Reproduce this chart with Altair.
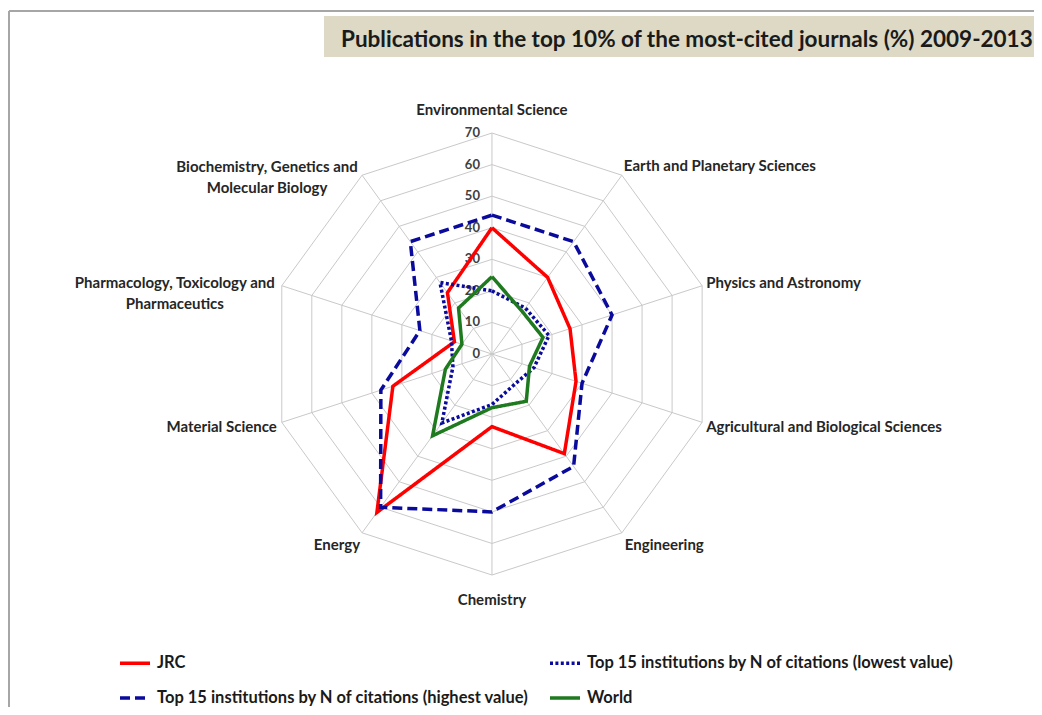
import altair as alt
import pandas as pd

# ---------------- data ----------------
categories = [
    "Environmental Science",
    "Earth and Planetary Sciences",
    "Physics and Astronomy",
    "Agricultural and Biological Sciences",
    "Engineering",
    "Chemistry",
    "Energy",
    "Material Science",
    "Pharmacology, Toxicology and\nPharmaceutics",
    "Biochemistry, Genetics and\nMolecular Biology",
]
series_names = [
    "JRC",
    "Top 15 institutions by N of citations (lowest value)",
    "Top 15 institutions by N of citations (highest value)",
    "World",
]
jrc = [40, 30, 26, 28, 39, 23, 62, 33, 12.5, 24]
top15_low = [20, 18, 19, 14, 12, 16, 27, 13, 13.5, 28]
top15_high = [44, 44, 40, 30, 44, 50, 60, 37, 24, 44]
world = [24.5, 16.5, 17, 12.5, 18.5, 17, 32, 15.5, 10, 18]
ticks = [0, 10, 20, 30, 40, 50, 60, 70]
title_text = "Publications in the top 10% of the most-cited journals (%) 2009-2013"

series_values = [jrc, top15_low, top15_high, world]
colors = ["#ff0000", "#0a0a9c", "#0a0a9c", "#1f7a1f"]
dashes = [[1, 0], [3, 2.4], [10, 5], [1, 0]]

n = len(categories)
rmax = ticks[-1]

# long tables built from the arrays above
rows = []
for s, vals in zip(series_names, series_values):
    for k in range(n + 1):
        rows.append({"series": s, "k": k, "value": vals[k % n]})
lines_df = pd.DataFrame(rows)

grid_df = pd.DataFrame([{"level": t, "k": k} for t in ticks[1:] for k in range(n + 1)])
spoke_df = pd.DataFrame({"k": list(range(n)), "category": categories})
tick_df = pd.DataFrame({"value": ticks})

FONT = "Lato"
W, H = 1026, 699
XD = [-153.3, 171.7]
YD = [-111.8, 109.6]


def X(field):
    return alt.X(field, type="quantitative", scale=alt.Scale(domain=XD, nice=False, zero=False), axis=None)


def Y(field):
    return alt.Y(field, type="quantitative", scale=alt.Scale(domain=YD, nice=False, zero=False), axis=None)


ang = "datum.k * 2 * PI / %d" % n

grid = alt.Chart(grid_df).mark_line(color="#c9c9c9", strokeWidth=1).transform_calculate(
    gx=f"datum.level * sin({ang})", gy=f"datum.level * cos({ang})"
).encode(x=X("gx"), y=Y("gy"), detail="level:N", order="k:Q")

spokes = alt.Chart(spoke_df).mark_rule(color="#c9c9c9", strokeWidth=1).transform_calculate(
    sx="0", sy="0", ex=f"{rmax} * sin({ang})", ey=f"{rmax} * cos({ang})"
).encode(x=X("sx"), y=Y("sy"), x2="ex:Q", y2="ey:Q")

tick_labels = alt.Chart(tick_df).mark_text(
    align="right", baseline="middle", dx=-12, font=FONT, fontSize=13, fontWeight="bold", color="#404040"
).transform_calculate(tx="0").encode(x=X("tx"), y=Y("value"), text="value:Q")

legend = alt.Legend(
    title=None, orient="none", legendX=110, legendY=638, columns=2, direction="horizontal",
    symbolType="stroke", symbolSize=900, symbolStrokeWidth=3.5,
    labelFont=FONT, labelFontSize=16.5, labelFontWeight="bold", labelColor="#1a1a1a",
    labelLimit=0, labelOffset=5, rowPadding=9, columnPadding=14,
)

series = alt.Chart(lines_df).mark_line(strokeWidth=3.5, strokeCap="butt", strokeJoin="miter").transform_calculate(
    px=f"datum.value * sin({ang})", py=f"datum.value * cos({ang})"
).encode(
    x=X("px"), y=Y("py"),
    color=alt.Color("series:N", scale=alt.Scale(domain=series_names, range=colors), legend=legend),
    strokeDash=alt.StrokeDash("series:N", scale=alt.Scale(domain=series_names, range=dashes), legend=legend),
    order="k:Q",
)

# label placement styles per category: (align, dx, dy)
label_style = [
    ("center", 0, -23),
    ("left", 2, -9),
    ("left", 4, -3),
    ("left", 4, 5),
    ("left", 3, 12),
    ("center", 0, 25),
    ("right", -2, 12),
    ("right", -5, 5),
    ("center", -107, -3),
    ("center", -95, -8),
]
cat_layers = []
for k, (a, dx, dy) in enumerate(label_style):
    cat_layers.append(
        alt.Chart(spoke_df).transform_filter(f"datum.k == {k}").mark_text(
            align=a, baseline="middle", dx=dx, dy=dy, lineBreak="\n", lineHeight=21,
            font=FONT, fontSize=15, fontWeight="bold", color="#262626"
        ).transform_calculate(
            lx=f"{rmax} * sin({ang})", ly=f"{rmax} * cos({ang})"
        ).encode(x=X("lx"), y=Y("ly"), text="category:N")
    )

# decorations: frame lines and title box
frame_top = alt.Chart(tick_df).mark_rule(color="#a6a6a6", strokeWidth=1.5).encode(
    x=alt.value(1), x2=alt.value(W), y=alt.value(3)
)
frame_left = alt.Chart(tick_df).mark_rule(color="#a6a6a6", strokeWidth=1.5).encode(
    x=alt.value(1), y=alt.value(3), y2=alt.value(H)
)
title_box = alt.Chart(tick_df).mark_rect(color="#ddd9c4").encode(
    x=alt.value(316), x2=alt.value(W), y=alt.value(8), y2=alt.value(49)
)
title = alt.Chart(pd.DataFrame({"t": [title_text]})).mark_text(
    align="left", baseline="alphabetic", font=FONT, fontSize=22.5, fontWeight="bold", color="#1a1a1a"
).encode(x=alt.value(333), y=alt.value(39), text="t:N")

chart = alt.layer(
    frame_top, frame_left, title_box, title, grid, spokes, tick_labels, *cat_layers, series
).properties(
    width=W, height=H, padding=0, autosize=alt.AutoSizeParams(type="none")
).configure_view(stroke=None)

chart.save("out.html", embed_options={"renderer": "svg", "actions": False})
